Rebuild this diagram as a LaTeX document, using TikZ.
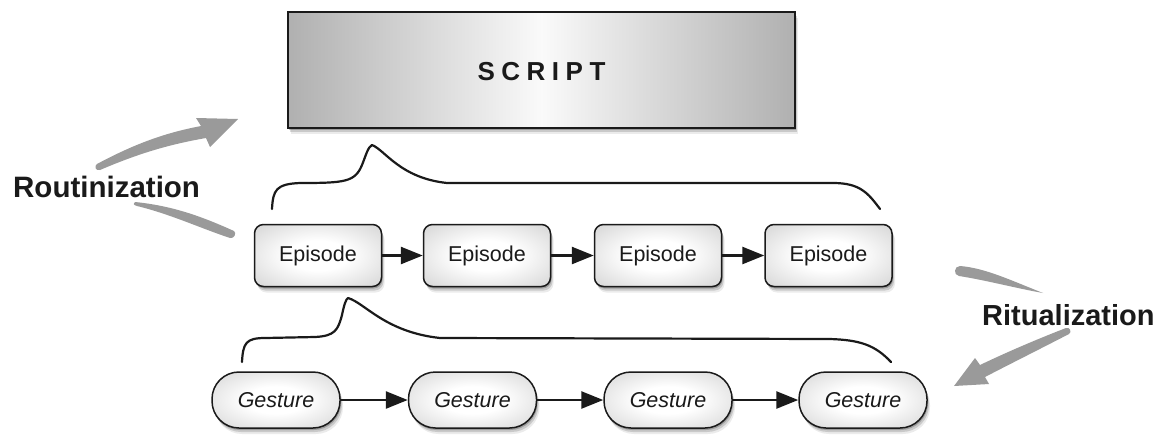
\documentclass[tikz,border=0pt]{standalone}
\usepackage{fontspec}
\setmainfont{Liberation Sans}
\usetikzlibrary{arrows.meta,shadows}
\definecolor{arrowgray}{HTML}{9A9A9A}
\definecolor{inkblack}{HTML}{1A1A1A}
\pgfdeclareradialshading{boxglow}{\pgfpoint{0bp}{0bp}}{%
  color(0bp)=(white); color(12bp)=(white); color(38bp)=(black!18);
  color(52bp)=(black!38); color(72bp)=(black!48)}
\begin{document}
\begin{tikzpicture}[x=1pt,y=-1pt,
  softshadow/.style={
    drop shadow={shadow xshift=1pt,shadow yshift=-2pt,opacity=.22,fill=black},
    drop shadow={shadow xshift=2pt,shadow yshift=-4pt,opacity=.14,fill=black},
    drop shadow={shadow xshift=3pt,shadow yshift=-6pt,opacity=.08,fill=black}},
  scriptbox/.style={draw=inkblack,line width=1.6pt,minimum width=507pt,minimum height=116pt,inner sep=0pt,
    left color=gray!62,right color=gray!62,middle color=gray!4,softshadow},
  episodebox/.style={draw=inkblack,line width=1.5pt,rounded corners=9pt,minimum width=127pt,minimum height=62pt,inner sep=0pt,
    shading=boxglow,softshadow,
    font=\fontsize{21.5}{24}\selectfont,text=inkblack},
  gesturebox/.style={draw=inkblack,line width=1.5pt,rounded corners=27pt,minimum width=128pt,minimum height=56pt,inner sep=0pt,
    shading=boxglow,softshadow,
    font=\fontsize{21.5}{24}\selectfont\itshape,text=inkblack},
  flow/.style={draw=inkblack,line width=2.6pt,-{Triangle[length=22pt,width=17pt]}},
  brace/.style={draw=inkblack,line width=2.2pt,line cap=round,line join=round},
  sidelabel/.style={font=\fontsize{29.5}{32}\selectfont\bfseries,text=inkblack,inner sep=0pt,anchor=base west}
]
\useasboundingbox[fill=white] (0,0) rectangle (1164,434);

% script box
\node[scriptbox] (script) at (541.5,70) {};
\node[font=\fontsize{26}{28}\selectfont\bfseries,text=inkblack,inner sep=0pt] (scripttext) at (541.5,72)
  {S\hspace{6.5pt}C\hspace{6.5pt}R\hspace{6.5pt}I\hspace{6.5pt}P\hspace{6.5pt}T};

% episodes
\node[episodebox] (e1) at (318,255.5) {Episode};
\node[episodebox] (e2) at (487,255.5) {Episode};
\node[episodebox] (e3) at (658,255.5) {Episode};
\node[episodebox] (e4) at (828.5,255.5) {Episode};
\draw[flow] (e1) -- (e2);
\draw[flow] (e2) -- (e3);
\draw[flow] (e3) -- (e4);

% gestures
\node[gesturebox] (g1) at (276,400) {Gesture};
\node[gesturebox] (g2) at (472.5,400) {Gesture};
\node[gesturebox] (g3) at (668,400) {Gesture};
\node[gesturebox] (g4) at (863,400) {Gesture};
\draw[flow] (g1) -- (g2);
\draw[flow] (g2) -- (g3);
\draw[flow] (g3) -- (g4);

% braces
\draw[brace] (272,209) .. controls (273,190) and (276,184) .. (300,183)
  .. controls (345,183) and (355,182) .. (362,165)
  .. controls (366,155) and (368,147) .. (372,145)
  .. controls (385,150) and (400,178) .. (447,183)
  -- (833,183) .. controls (860,183) and (868,193) .. (880,209);
\draw[brace] (242,362) .. controls (243,343) and (246,338) .. (265,338)
  -- (315,337) .. controls (335,336) and (338,330) .. (342,315)
  .. controls (344,305) and (346,299) .. (348,298)
  .. controls (365,303) and (385,332) .. (440,338)
  -- (830,339) .. controls (860,340) and (875,345) .. (891,362);

% labels
\node[sidelabel] (rout) at (13,197) {Routinization};
\node[sidelabel,font=\fontsize{29}{32}\selectfont\bfseries] (ritu) at (982,325) {Ritualization};

% routinization arrows
\fill[arrowgray] (97,164) .. controls (140,141) and (170,132) .. (201,126)
  -- (196,118) -- (238,119) -- (210,147) -- (206,138)
  .. controls (172,144) and (142,152) .. (100,170)
  .. controls (95,171) and (94,166) .. cycle;
\fill[arrowgray] (135,202) .. controls (175,206) and (205,218) .. (234,231)
  .. controls (237,233) and (234,239) .. (230,238)
  .. controls (200,228) and (170,214) .. (137,206)
  .. controls (133,205) and (133,203) .. cycle;

% ritualization arrows
\fill[arrowgray] (1043,293) .. controls (1010,280) and (985,268) .. (960,266)
  .. controls (954,266) and (953,275) .. (959,276)
  .. controls (985,280) and (1015,288) .. cycle;
\fill[arrowgray] (1066,328) .. controls (1035,340) and (1005,353) .. (980,365)
  -- (975,358) -- (954,386) -- (989,384) -- (985,377)
  .. controls (1010,364) and (1040,349) .. (1069,334)
  .. controls (1072,332) and (1070,327) .. cycle;
\end{tikzpicture}
\end{document}
